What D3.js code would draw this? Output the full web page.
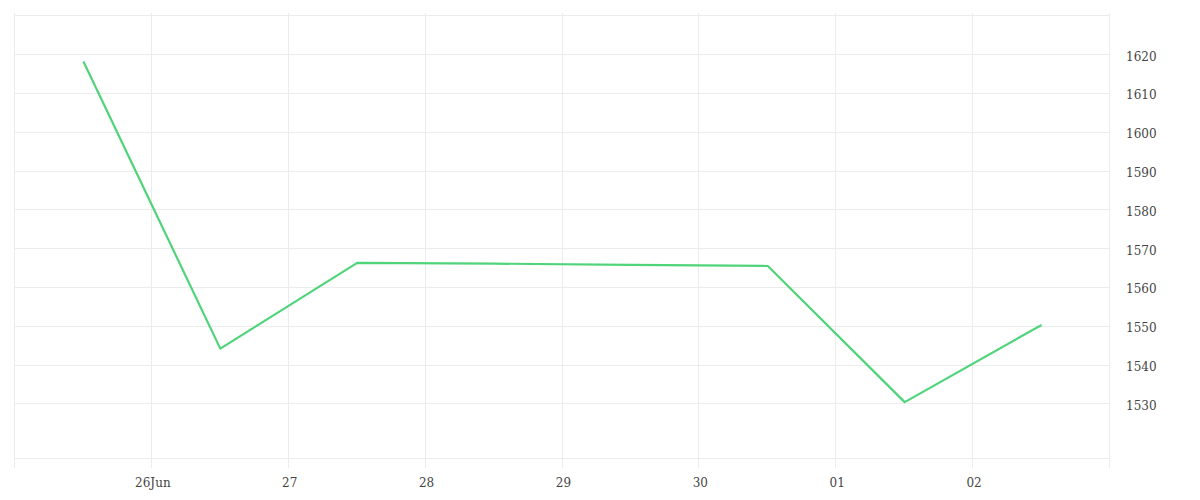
<!DOCTYPE html>
<html>
<head>
<meta charset="utf-8">
<script src="https://cdn.jsdelivr.net/npm/d3@7"></script>
<style>
  html, body { margin: 0; padding: 0; background: #fff; }
  #chart { width: 1200px; height: 500px; }
  text { font-family: "DejaVu Serif", "Liberation Serif", serif; }
</style>
</head>
<body>
<div id="chart"></div>
<script>
// readings at noon of each day
const dates = ['2024-06-25', '2024-06-26', '2024-06-27', '2024-06-28', '2024-06-29', '2024-06-30', '2024-07-01', '2024-07-02'];
const values = [1618.1, 1544.1, 1566.2, 1566.0, 1565.7, 1565.4, 1530.3, 1550.2];
const yTicks = [1530, 1540, 1550, 1560, 1570, 1580, 1590, 1600, 1610, 1620];
const xTickDays = ['2024-06-25', '2024-06-26', '2024-06-27', '2024-06-28', '2024-06-29', '2024-06-30', '2024-07-01', '2024-07-02', '2024-07-03'];
const xTickLabels = ['', '26Jun', '27', '28', '29', '30', '01', '02', ''];

const parse = d3.timeParse('%Y-%m-%d');
const data = dates.map((d, i) => ({ date: d3.timeHour.offset(parse(d), 12), value: values[i] }));

const width = 1200, height = 500;
const margin = { top: 15, right: 90, bottom: 42, left: 15 };
const w = width - margin.left - margin.right;
const h = height - margin.top - margin.bottom;

const svg = d3.select('#chart').append('svg').attr('width', width).attr('height', height);
const g = svg.append('g').attr('transform', `translate(${margin.left},${margin.top})`);

const x = d3.scaleTime().domain([parse('2024-06-25'), parse('2024-07-03')]).range([0, w]);
const y = d3.scaleLinear().domain([1515.9, 1630.1]).range([h, 0]);

const grid = '#ececec';

// horizontal grid
g.selectAll('line.hgrid').data(yTicks).enter().append('line')
  .attr('class', 'hgrid')
  .attr('x1', 0).attr('x2', w)
  .attr('y1', d => Math.round(y(d)) + 0.5).attr('y2', d => Math.round(y(d)) + 0.5)
  .attr('stroke', grid);

// frame top/bottom
[0, h].forEach(yy => {
  g.append('line').attr('x1', 0).attr('x2', w).attr('y1', yy + 0.5).attr('y2', yy + 0.5).attr('stroke', grid);
});

// vertical grid with ticks below
const xt = xTickDays.map(parse);
g.selectAll('line.vgrid').data(xt).enter().append('line')
  .attr('class', 'vgrid')
  .attr('x1', d => Math.round(x(d)) - 0.5).attr('x2', d => Math.round(x(d)) - 0.5)
  .attr('y1', -2).attr('y2', h + 10)
  .attr('stroke', grid);

// x labels
g.selectAll('text.xl').data(xt).enter().append('text')
  .attr('class', 'xl')
  .attr('x', d => x(d) + 1).attr('y', h + 29)
  .attr('text-anchor', 'middle')
  .attr('fill', '#444')
  .attr('font-size', 12)
  .text((d, i) => xTickLabels[i]);

// y labels on the right
g.selectAll('text.yl').data(yTicks).enter().append('text')
  .attr('class', 'yl')
  .attr('x', w + 16).attr('y', d => y(d) + 6.5)
  .attr('fill', '#444')
  .attr('font-size', 12)
  .text(d => d);

const line = d3.line().x(d => x(d.date)).y(d => y(d.value));
g.append('path').datum(data)
  .attr('d', line)
  .attr('fill', 'none')
  .attr('stroke', '#4fd47a')
  .attr('stroke-width', 2.2)
  .attr('stroke-linejoin', 'round');
</script>
</body>
</html>
